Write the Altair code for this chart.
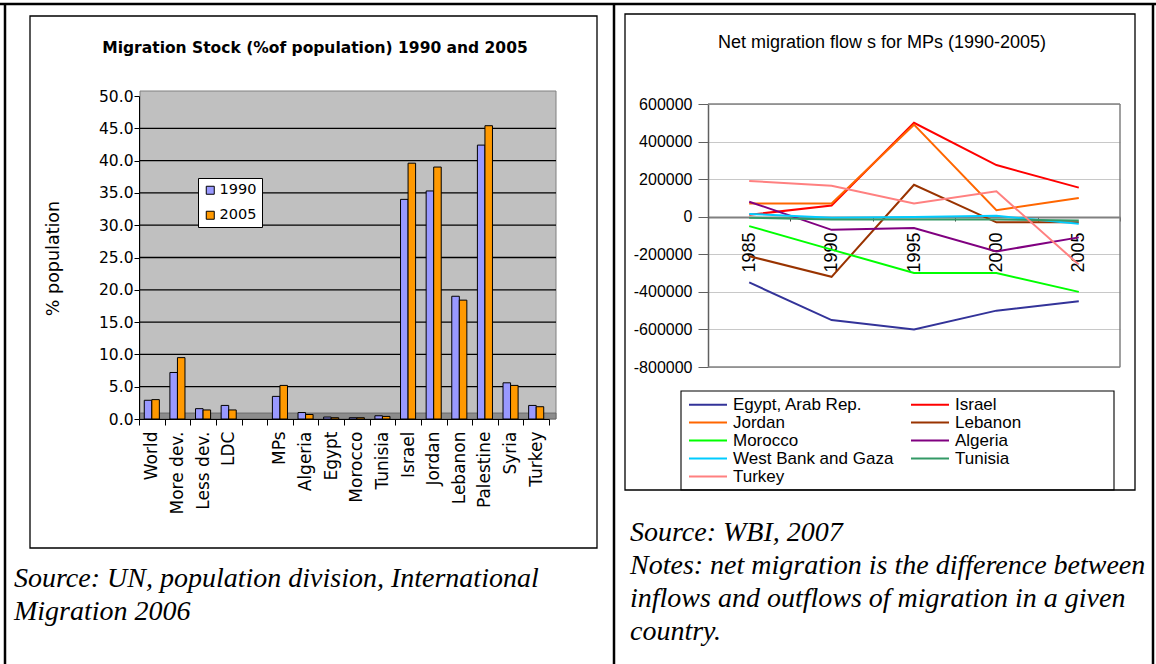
import altair as alt
import pandas as pd

# ---------------- Migration stock (% of population), 1990 and 2005 ----------------
stock_order = ["World", "More dev.", "Less dev.", "LDC", " ", "MPs", "Algeria", "Egypt",
               "Morocco", "Tunisia", "Israel", "Jordan", "Lebanon", "Palestine", "Syria", "Turkey"]
stock_regions = ["World", "More dev.", "Less dev.", "LDC", "MPs", "Algeria", "Egypt",
                 "Morocco", "Tunisia", "Israel", "Jordan", "Lebanon", "Palestine", "Syria", "Turkey"]
stock_1990 = [2.9, 7.2, 1.6, 2.1, 3.5, 1.0, 0.3, 0.2, 0.5, 34.0, 35.3, 19.0, 42.4, 5.6, 2.1]
stock_2005 = [3.0, 9.5, 1.4, 1.4, 5.2, 0.7, 0.2, 0.2, 0.4, 39.6, 39.0, 18.4, 45.4, 5.2, 1.9]
stock_years = ["1990", "2005"]
stock_colors = ["#9999FF", "#FF9900"]
stock_ticks = [0, 5, 10, 15, 20, 25, 30, 35, 40, 45, 50]
stock_grid = [5, 10, 15, 20, 25, 30, 35, 40, 45]

# ---------------- Net migration flows for MPs ----------------
flow_years = ["1985", "1990", "1995", "2000", "2005"]
flow_countries = ["Egypt, Arab Rep.", "Israel", "Jordan", "Lebanon", "Morocco",
                  "Algeria", "West Bank and Gaza", "Tunisia", "Turkey"]
flow_colors = ["#333399", "#FF0000", "#FF6600", "#993300", "#00FF00",
               "#800080", "#00CCFF", "#339966", "#FF8080"]
flow_egypt = [-350000, -550000, -600000, -500000, -450000]
flow_israel = [10000, 60000, 500000, 275000, 155000]
flow_jordan = [70000, 70000, 490000, 35000, 100000]
flow_lebanon = [-210000, -320000, 170000, -30000, -30000]
flow_morocco = [-50000, -175000, -300000, -300000, -400000]
flow_algeria = [80000, -70000, -60000, -185000, -110000]
flow_wbg = [15000, -5000, -2000, 5000, -38000]
flow_tunisia = [-5000, -15000, -15000, -15000, -20000]
flow_turkey = [190000, 165000, 70000, 135000, -255000]
flow_ticks = [-800000, -600000, -400000, -200000, 0, 200000, 400000, 600000]

stock_title = "Migration Stock (%of population) 1990 and 2005"
flow_title = "Net migration flow s for MPs (1990-2005)"
stock_note = ["Source: UN, population division, International", "Migration 2006"]
flow_note = ["Source: WBI, 2007",
             "Notes: net migration is the difference between",
             "inflows and outflows of migration in a given",
             "country."]

# ---------------- tables ----------------
stock_rows = []
for region, a, b in zip(stock_regions, stock_1990, stock_2005):
    stock_rows.append({"region": region, "year": "1990", "pct": a})
    stock_rows.append({"region": region, "year": "2005", "pct": b})
stock_df = pd.DataFrame(stock_rows)

flow_series = [flow_egypt, flow_israel, flow_jordan, flow_lebanon, flow_morocco,
               flow_algeria, flow_wbg, flow_tunisia, flow_turkey]
flow_rows = []
for country, series in zip(flow_countries, flow_series):
    for yr, v in zip(flow_years, series):
        flow_rows.append({"country": country, "year": yr, "value": v})
flow_df = pd.DataFrame(flow_rows)

# the legend fills column by column; order the domain so it reads across in pairs
legend_order = flow_countries[0::2] + flow_countries[1::2]
legend_colors = flow_colors[0::2] + flow_colors[1::2]

one = pd.DataFrame({"k": [0]})


def box(x, x2, y, y2, stroke="black", width=1.2, fill="transparent"):
    return alt.Chart(one).mark_rect(fill=fill, stroke=stroke, strokeWidth=width).encode(
        x=alt.value(x), x2=alt.value(x2), y=alt.value(y), y2=alt.value(y2))


def seg(x, x2, y, y2, color="black", width=2.5):
    return alt.Chart(one).mark_rule(color=color, strokeWidth=width).encode(
        x=alt.value(x), x2=alt.value(x2), y=alt.value(y), y2=alt.value(y2))


def words(text, x, y, **kw):
    return alt.Chart(one).mark_text(**kw).encode(
        x=alt.value(x), y=alt.value(y), text=alt.value(text))


# ---------------- left panel: clustered bars on a grey wall ----------------
y_stock = alt.Scale(domain=[0, 50], range=[419, 96])
y_stock_axis = alt.Axis(title="% population", orient="left", offset=-139,
                        values=stock_ticks, format=".1f", tickSize=5, labelPadding=1,
                        labelFont="DejaVu Sans", labelFontSize=15.5, labelColor="black",
                        domainColor="black", tickColor="black", grid=False,
                        titleFont="DejaVu Sans", titleFontSize=17.5,
                        titleFontWeight="normal", titleColor="black",
                        titleX=-86, titleY=258, titleAngle=270,
                        titleAlign="center", titleBaseline="middle", zindex=1)

wall = box(140, 556, 91, 419, stroke="#808080", width=1, fill="#C0C0C0")
floor = box(140, 556, 413, 419, stroke="#606060", width=0.8, fill="#8C8C8C")
grid_rules = alt.Chart(pd.DataFrame({"pct": stock_grid})).mark_rule(
    color="black", strokeWidth=1.3).encode(
    y=alt.Y("pct:Q", scale=y_stock, axis=y_stock_axis),
    x=alt.value(140), x2=alt.value(556))

bars = alt.Chart(stock_df).mark_bar(stroke="black", strokeWidth=1).encode(
    x=alt.X("region:N", sort=stock_order,
            scale=alt.Scale(domain=stock_order, range=[139, 549],
                            paddingInner=0, paddingOuter=0),
            axis=alt.Axis(title=None, orient="bottom", offset=-245, labelAngle=270,
                          tickBand="extent", tickSize=6, labelPadding=6,
                          labelFont="DejaVu Sans", labelFontSize=17, labelColor="black",
                          labelOverlap=False, domainColor="black", tickColor="black",
                          grid=False, zindex=1)),
    xOffset=alt.XOffset("year:N", scale=alt.Scale(domain=stock_years,
                                                  paddingInner=0, paddingOuter=0.7)),
    y=alt.Y("pct:Q", scale=y_stock, axis=y_stock_axis),
    color=alt.Color("year:N", scale=alt.Scale(domain=stock_years, range=stock_colors),
                    legend=alt.Legend(title=None, orient="none", legendX=198, legendY=178,
                                      padding=5, rowPadding=10, fillColor="white",
                                      strokeColor="black", symbolType="square",
                                      symbolSize=64, symbolStrokeColor="black",
                                      symbolStrokeWidth=1, labelOffset=2,
                                      labelFont="DejaVu Sans", labelFontSize=14.5,
                                      labelColor="black")),
)

stock_part = alt.layer(wall, floor, grid_rules, bars)

# ---------------- right panel: net migration lines ----------------
flow_lines = alt.Chart(flow_df).mark_line(strokeWidth=2).encode(
    x=alt.X("year:O", bandPosition=0.5,
            scale=alt.Scale(type="band", domain=flow_years, range=[708, 1120],
                            paddingInner=0, paddingOuter=0),
            axis=alt.Axis(title=None, orient="bottom", offset=-447, labelAngle=270,
                          tickBand="extent", tickSize=4, labelPadding=11,
                          labelFont="Liberation Sans", labelFontSize=18,
                          labelColor="black", labelOverlap=False,
                          domainColor="#808080", domainWidth=2, tickColor="#404040",
                          grid=False)),
    y=alt.Y("value:Q", scale=alt.Scale(domain=[-800000, 600000], range=[367, 104]),
            axis=alt.Axis(title=None, orient="left", offset=-708, values=flow_ticks,
                          labelExpr="'' + datum.value", tickSize=10, labelPadding=6,
                          labelFont="Liberation Sans", labelFontSize=16,
                          labelColor="black", domainColor="#606060", domainWidth=1.5,
                          tickColor="#606060", grid=True, gridColor="#C8C8C8",
                          gridWidth=1)),
    color=alt.Color("country:N", sort=legend_order,
                    scale=alt.Scale(domain=legend_order, range=legend_colors),
                    legend=alt.Legend(title=None, orient="none", legendX=689, legendY=396,
                                      columns=2, columnPadding=13, rowPadding=0, padding=0,
                                      symbolType="M-1.7,0H5.9", symbolSize=100,
                                      symbolStrokeWidth=2, labelOffset=27,
                                      labelFont="Liberation Sans", labelFontSize=17,
                                      labelColor="black", labelLimit=400)),
)

flow_frame = [
    seg(708, 1120, 104, 104, color="#808080", width=1.5),
    seg(1120, 1120, 104, 367, color="#808080", width=1.5),
    seg(708, 1120, 367, 367, color="#808080", width=1.5),
]
flow_part = alt.layer(*flow_frame, flow_lines)

# ---------------- page frame, titles and notes ----------------
frames = [
    seg(0, 1156, 4, 4),
    seg(5, 5, 3, 664),
    seg(614, 614, 3, 664),
    seg(1153, 1153, 3, 664),
    box(30, 597, 16, 548, width=1.3),
    box(625, 1135, 14, 490, width=1.3),
    box(681, 1114, 391, 490, width=1.1),
]

texts = [
    words(stock_title, 315, 48, font="DejaVu Sans", fontSize=15.5, fontWeight="bold",
          align="center", baseline="middle", color="black"),
    words(flow_title, 882, 43, font="Liberation Sans", fontSize=18,
          align="center", baseline="middle", color="black"),
    words(stock_note, 14, 587, font="Liberation Serif", fontSize=28, fontStyle="italic",
          align="left", baseline="alphabetic", lineHeight=33, color="black"),
    words(flow_note, 630, 541, font="Liberation Serif", fontSize=28, fontStyle="italic",
          align="left", baseline="alphabetic", lineHeight=33, color="black"),
]

chart = alt.layer(
    *frames, stock_part, flow_part, *texts
).resolve_scale(
    x="independent", y="independent", color="independent"
).properties(
    width=1156, height=664, padding=0, background="white",
    autosize=alt.AutoSizeParams(type="none"),
).configure_view(strokeWidth=0)

chart.save("out.html", embed_options={"renderer": "svg", "actions": False})
